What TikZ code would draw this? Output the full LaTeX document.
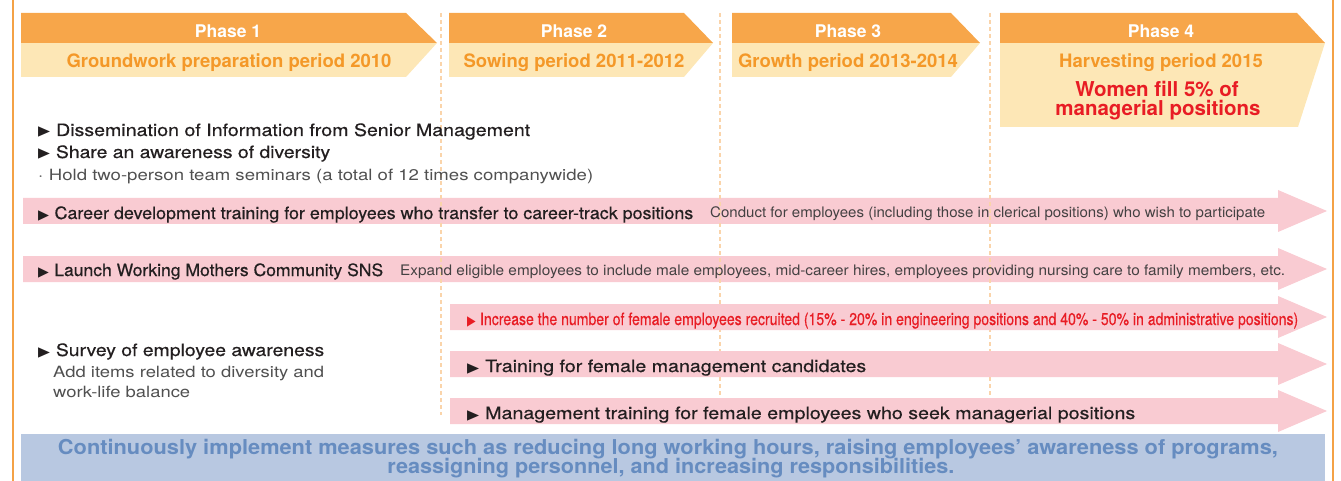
\documentclass[tikz,border=0pt]{standalone}
\usepackage{fontspec}
\usepackage{graphicx}
\setmainfont{TeX Gyre Heros}
\newfontfamily\symfont{DejaVu Sans}
\newfontfamily\medfont[FakeBold=0.5]{TeX Gyre Heros}

\definecolor{orDark}{RGB}{247,166,74}
\definecolor{orLight}{RGB}{253,231,182}
\definecolor{orTxt}{RGB}{244,152,40}
\definecolor{frameOr}{RGB}{244,162,70}
\definecolor{dashOr}{RGB}{250,212,170}
\definecolor{pinkBand}{RGB}{249,203,210}
\definecolor{redTxt}{RGB}{232,28,36}
\definecolor{blueFill}{RGB}{184,200,225}
\definecolor{blueTxt}{RGB}{102,140,192}
\definecolor{ink}{RGB}{35,31,32}
\definecolor{grey}{RGB}{80,80,80}

\newcommand{\tri}{\scalebox{0.8}{\symfont ▶}\hspace{0.3em}}
\newcommand{\fitw}[2]{\resizebox{#1pt}{\height}{#2}}

\begin{document}
\begin{tikzpicture}[x=1pt,y=-1pt,
  hd/.style={anchor=base,inner sep=0pt,font=\fontsize{17.5}{20}\selectfont\bfseries,text=white},
  per/.style={anchor=base,inner sep=0pt,font=\fontsize{18.5}{21}\selectfont\bfseries,text=orTxt},
  goal/.style={anchor=base,inner sep=0pt,font=\fontsize{20.5}{23}\selectfont\bfseries,text=redTxt},
  item/.style={anchor=base west,inner sep=0pt,font=\fontsize{17}{20}\selectfont\medfont,text=ink},
  note/.style={anchor=base west,inner sep=0pt,font=\fontsize{15.5}{18}\selectfont,text=grey},
  side/.style={anchor=base west,inner sep=0pt,font=\fontsize{14.5}{17}\selectfont,text=ink!85},
  cont/.style={anchor=base,inner sep=0pt,font=\fontsize{20.5}{23}\selectfont\bfseries,text=blueTxt},
  ph/.style={fill=orDark},
  phl/.style={fill=orLight},
  band/.style={fill=pinkBand},
  sep/.style={draw=dashOr,line width=1.1pt,dash pattern=on 4pt off 3pt},
  edge/.style={draw=frameOr,line width=1.5pt}]

\useasboundingbox (0,0) rectangle (1341,481);

% outer frame sides
\draw[edge] (13,0) -- (13,481);
\draw[edge] (1333,0) -- (1333,481);

% phase banners
\fill[phl] (21,43) -- (437,43) -- (406,77) -- (21,77) -- cycle;
\fill[ph] (21,13) -- (406,13) -- (437,43) -- (21,43) -- cycle;
\fill[phl] (449,43) -- (713,43) -- (684,77) -- (449,77) -- cycle;
\fill[ph] (449,13) -- (684,13) -- (713,43) -- (449,43) -- cycle;
\fill[phl] (732,43) -- (980,43) -- (951,77) -- (732,77) -- cycle;
\fill[ph] (732,13) -- (951,13) -- (980,43) -- (732,43) -- cycle;
\fill[phl] (1000,43) -- (1325,43) -- (1298,127) -- (1000,127) -- cycle;
\fill[ph] (1000,13) -- (1297,13) -- (1325,43) -- (1000,43) -- cycle;

\node[hd] (p1) at (228,38) {Phase 1};
\node[hd] (p2) at (574,38) {Phase 2};
\node[hd] (p3) at (848,38) {Phase 3};
\node[hd] (p4) at (1161,38) {Phase 4};
\node[per] (t1) at (229,68) {Groundwork preparation period 2010};
\node[per] (t2) at (574,68) {Sowing period 2011-2012};
\node[per] (t3) at (848,68) {Growth period 2013-2014};
\node[per] (t4) at (1161,68) {Harvesting period 2015};
\node[goal] (g1) at (1157,97) {Women fill 5\% of};
\node[goal] (g2) at (1158,116) {managerial positions};

% companywide bands
\fill[band] (23,198) -- (1278,198) -- (1278,190) -- (1327,211) -- (1278,232) -- (1278,224) -- (23,224) -- cycle;
\fill[band] (23,256) -- (1278,256) -- (1278,248) -- (1327,269) -- (1278,290) -- (1278,282) -- (23,282) -- cycle;

% phase separators
\draw[sep] (441,13) -- (441,415);
\draw[sep] (720,13) -- (720,415);
\draw[sep] (990,13) -- (990,415);

% bands from phase 2 on
\fill[band] (450,304) -- (1278,304) -- (1278,296) -- (1327,317) -- (1278,338) -- (1278,330) -- (450,330) -- cycle;
\fill[band] (450,351) -- (1278,351) -- (1278,343) -- (1327,364) -- (1278,385) -- (1278,377) -- (450,377) -- cycle;
\fill[band] (450,398) -- (1278,398) -- (1278,390) -- (1327,411) -- (1278,432) -- (1278,424) -- (450,424) -- cycle;

% phase 1 measures
\node[item] (dis) at (38,136) {\fitw{492}{\tri Dissemination of Information from Senior Management}};
\node[item] (share) at (38,158) {\fitw{292}{\tri Share an awareness of diversity}};
\node[note] (hold) at (38,181) {\fitw{555}{·\hspace{0.3em}Hold two-person team seminars (a total of 12 times companywide)}};
\node[item] (survey) at (38,356) {\fitw{286}{\tri Survey of employee awareness}};
\node[note] (items) at (53,377) {\fitw{271}{Add items related to diversity and}};
\node[note] (wlb) at (53,397) {\fitw{137}{work-life balance}};

% texts on the bands
\node[item] (career) at (38,219) {\fitw{655}{\tri Career development training for employees who transfer to career-track positions}};
\node[side] (conduct) at (710,218) {\fitw{555}{Conduct for employees (including those in clerical positions) who wish to participate}};
\node[item] (sns) at (38,276) {\fitw{345}{\tri Launch Working Mothers Community SNS}};
\node[side] (expand) at (400,275) {\fitw{885}{Expand eligible employees to include male employees, mid-career hires, employees providing nursing care to family members, etc.}};
\node[item,text=redTxt] (recruit) at (467,325) {\fitw{831}{\tri Increase the number of female employees recruited (15\% - 20\% in engineering positions and 40\% - 50\% in administrative positions)}};
\node[item] (cand) at (467,372) {\fitw{399}{\tri Training for female management candidates}};
\node[item] (mgmt) at (467,419) {\fitw{668}{\tri Management training for female employees who seek managerial positions}};

% continuous measures
\fill[blueFill] (21,434) rectangle (1325,481);
\node[cont] (c1) at (668,454) {\fitw{1220}{Continuously implement measures such as reducing long working hours, raising employees’ awareness of programs,}};
\node[cont] (c2) at (671,473) {\fitw{567}{reassigning personnel, and increasing responsibilities.}};
\end{tikzpicture}
\end{document}
